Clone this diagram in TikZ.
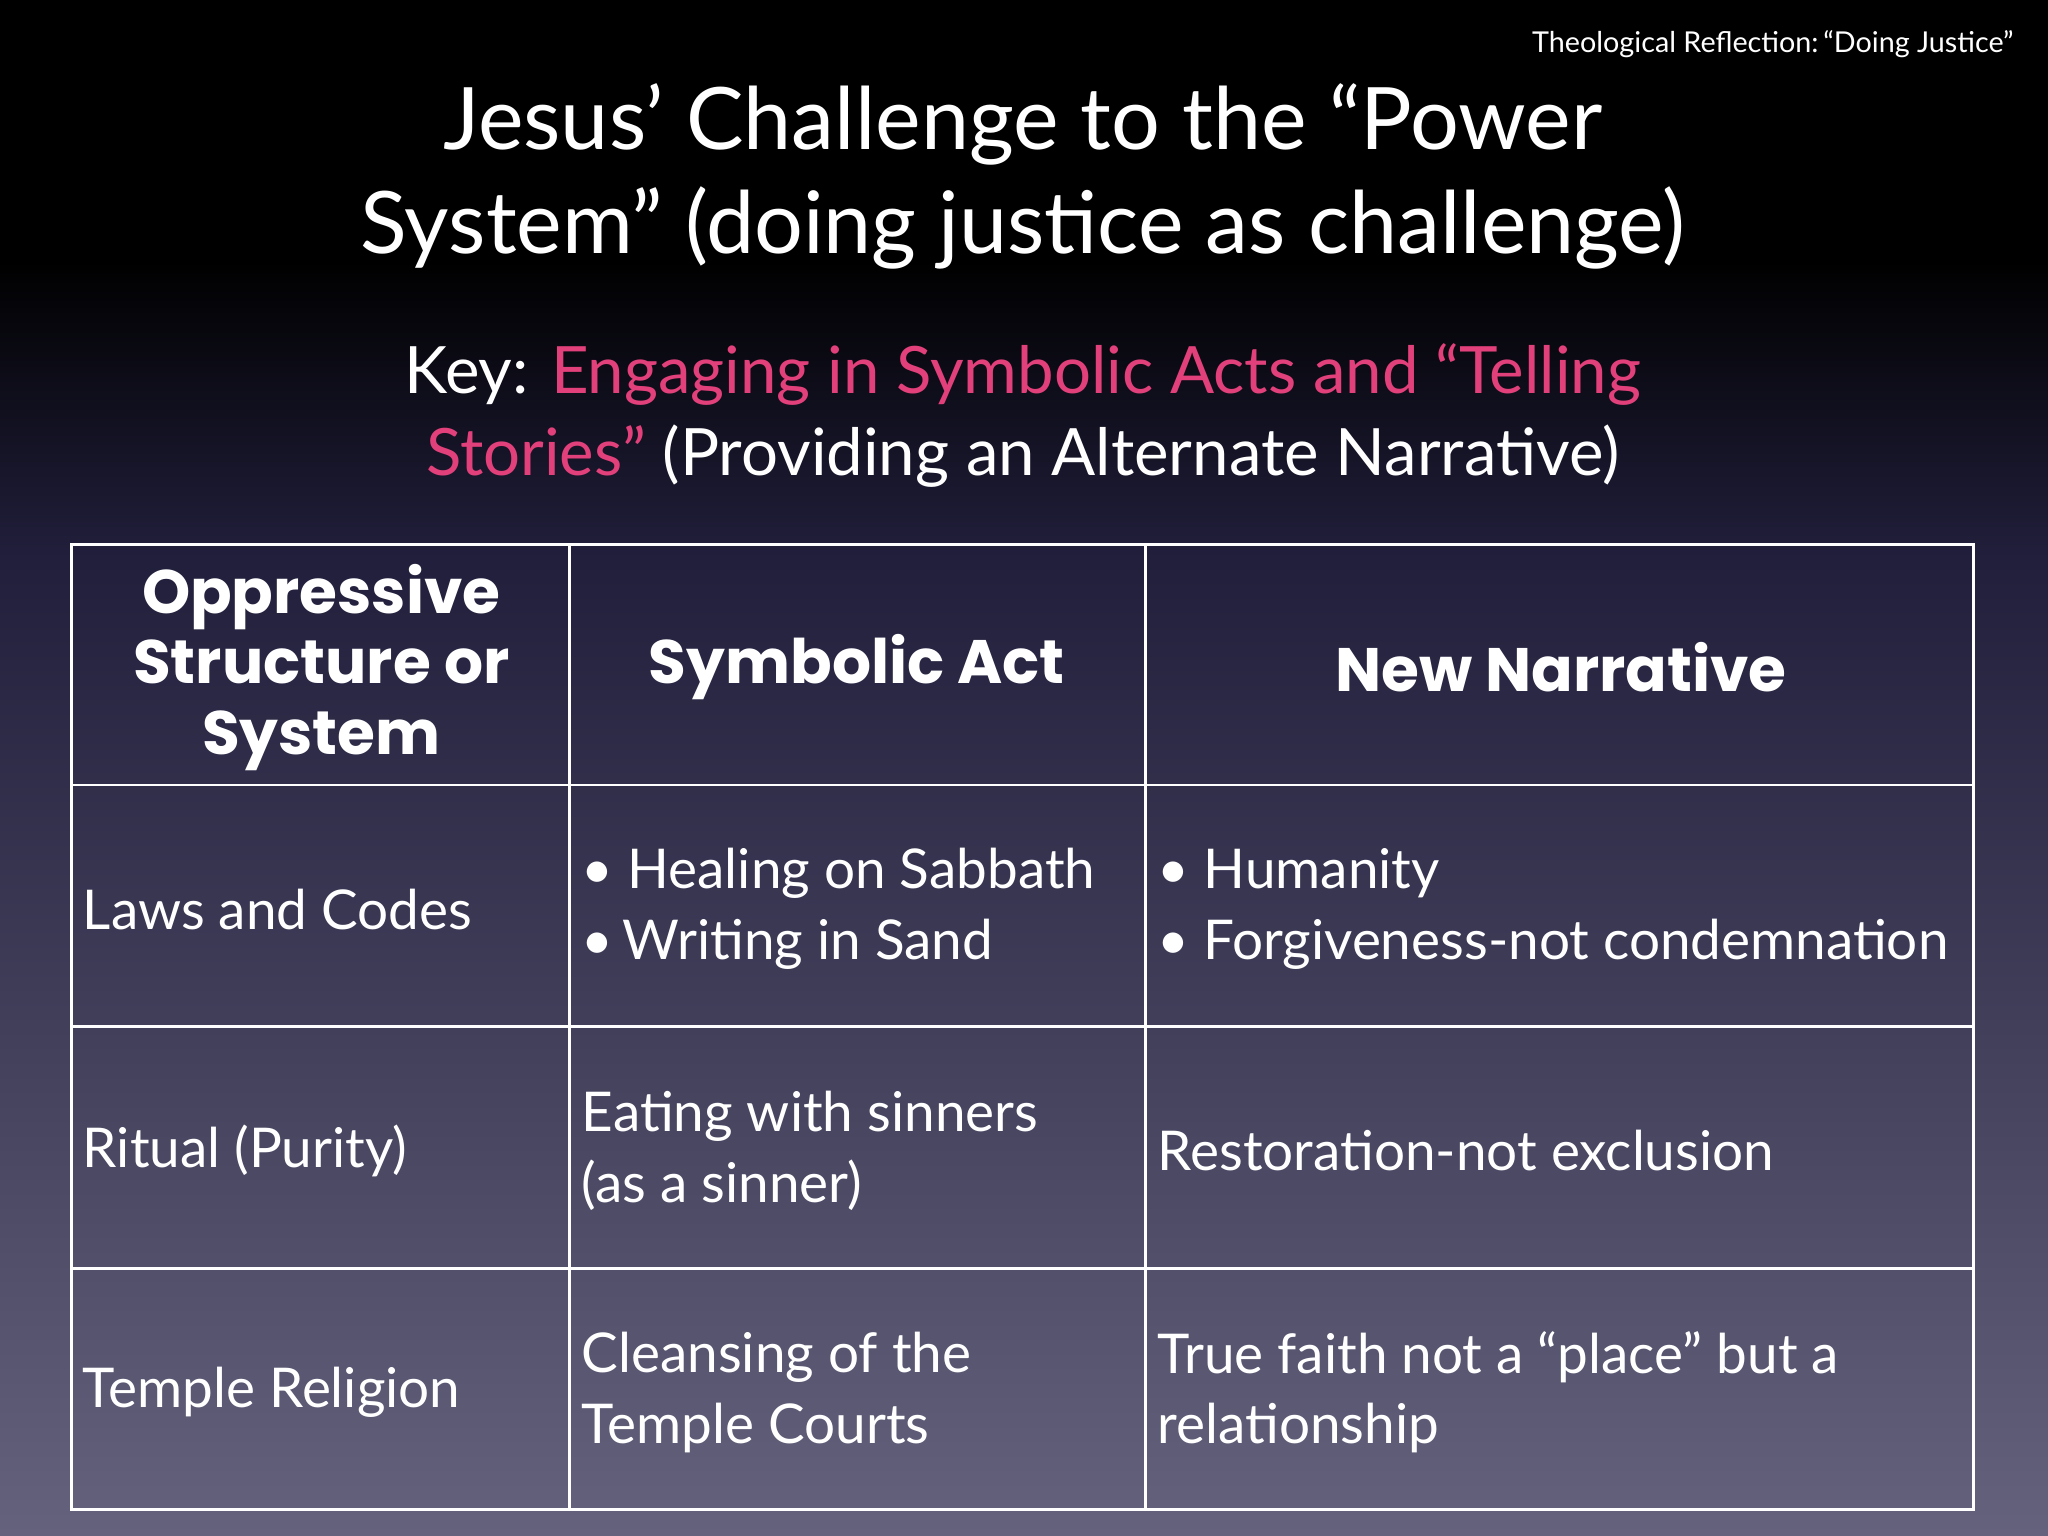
\documentclass[tikz,border=0pt]{standalone}
\usepackage{fontspec}
\setmainfont{Lato}
\newfontfamily\hdfont{Poppins Bold}
\definecolor{pinkk}{RGB}{226,64,122}
\definecolor{bgmid}{RGB}{32,30,58}
\definecolor{bgbot}{RGB}{100,98,124}
\begin{document}
\begin{tikzpicture}[x=0.5pt,y=-0.5pt,
  cell/.style={anchor=west,text=white,align=left,font=\fontsize{21}{27}\selectfont,inner sep=0},
  head/.style={anchor=center,text=white,align=center,font=\hdfont\fontsize{23.5}{27}\selectfont,inner sep=0},
  grid/.style={draw=white,line width=1.1pt}]
\useasboundingbox (0,0) rectangle (1568,1176);
\fill[black] (0,0) rectangle (1568,200);
\shade[top color=black,bottom color=bgmid] (0,199) rectangle (1568,420);
\shade[top color=bgmid,bottom color=bgbot] (0,419) rectangle (1568,1176);
\node[anchor=east,text=white,font=\fontsize{11}{13}\selectfont,inner sep=0] (tr) at (1542,34) {Theological Reflection:\,``Doing Justice''};
\node[text=white,align=center,font=\fontsize{33}{40}\selectfont] (title) at (783,135) {Jesus' Challenge to the ``Power\\System'' (doing justice as challenge)};
\node[text=white,align=center,font=\fontsize{25}{31.5}\selectfont] (key) at (783,318) {Key: \textcolor{pinkk}{Engaging in Symbolic Acts and ``Telling}\\\textcolor{pinkk}{Stories''} (Providing an Alternate Narrative)};
\draw[grid] (55,417) rectangle (1511,1156);
\foreach \y in {601,786,971} \draw[grid] (55,\y) -- (1511,\y);
\foreach \x in {436,877} \draw[grid] (\x,417) -- (\x,1156);
\node[head] (h1) at (246,511) {Oppressive\\Structure or\\System};
\node[head] (h2) at (656,511) {Symbolic Act};
\node[head] (h3) at (1195,511) {New Narrative};
\node[cell] (c11) at (63,696) {Laws and Codes};
\node[cell] (c12) at (445,696) {\textbullet\ Healing on Sabbath\\\textbullet\,Writing in Sand};
\node[cell] (c13) at (886,696) {\textbullet\ Humanity\\\textbullet\ Forgiveness-not condemnation};
\node[cell] (c21) at (63,881) {Ritual (Purity)};
\node[cell] (c22) at (445,881) {Eating with sinners\\(as a sinner)};
\node[cell] (c23) at (886,881) {Restoration-not exclusion};
\node[cell] (c31) at (63,1066) {Temple Religion};
\node[cell] (c32) at (445,1066) {Cleansing of the\\Temple Courts};
\node[cell] (c33) at (886,1066) {True faith not a ``place'' but a\\relationship};
\end{tikzpicture}
\end{document}
